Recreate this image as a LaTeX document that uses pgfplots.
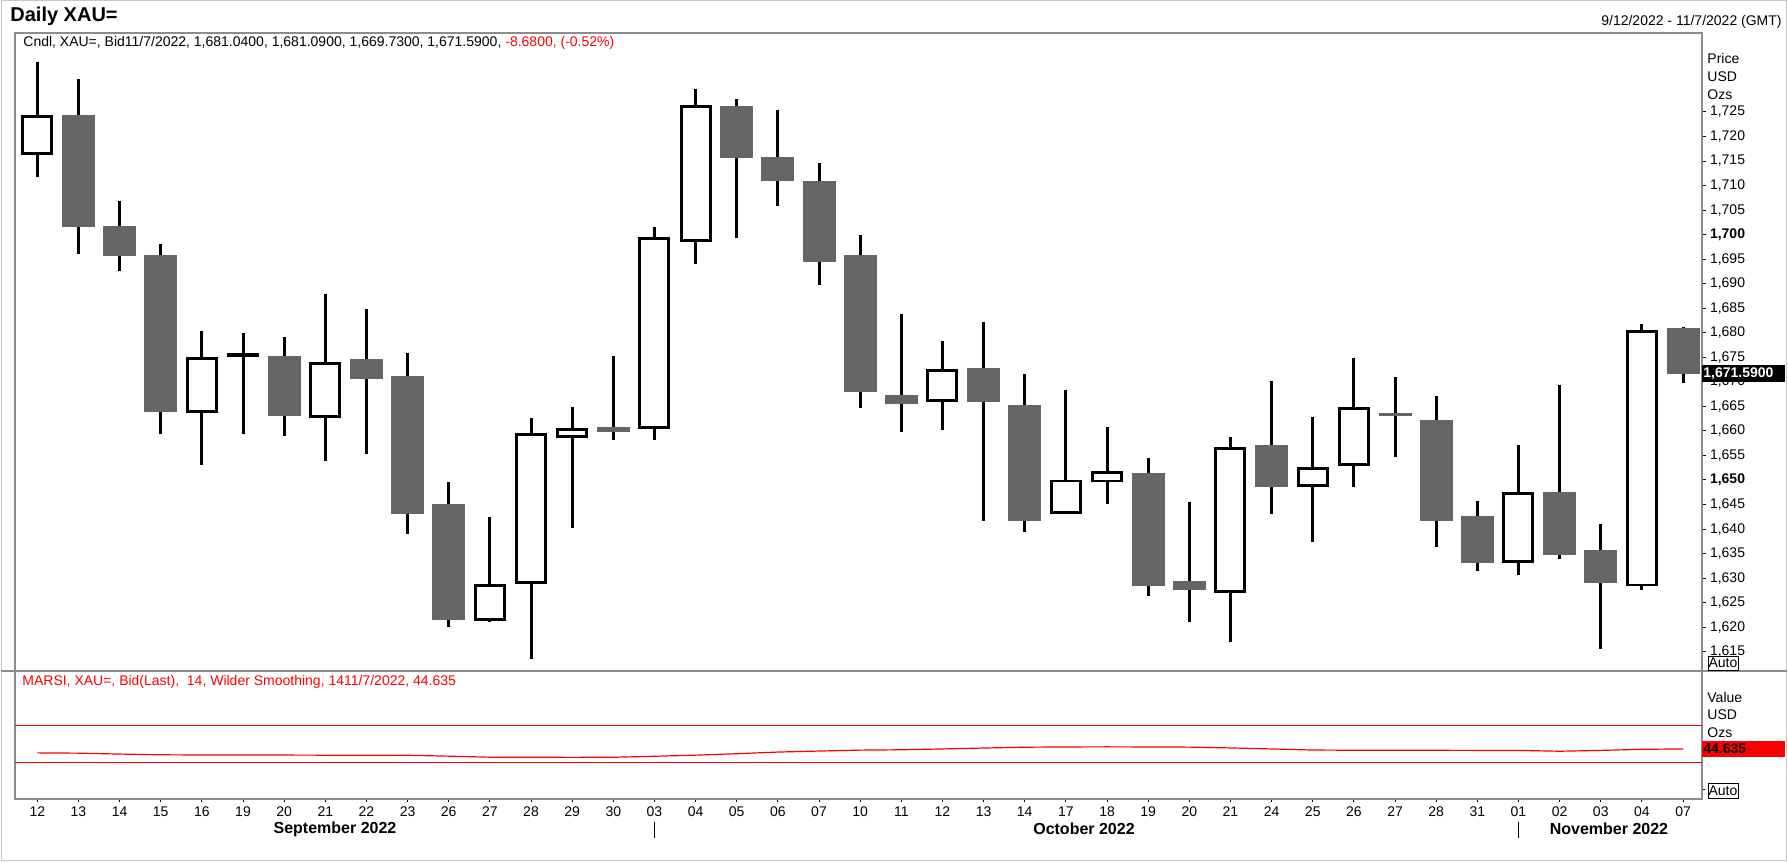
\documentclass[border=0pt]{standalone}
\usepackage{fontspec}
\setmainfont{Liberation Sans}
\usepackage{pgfplots}
\usepackage{pgfplotstable}
\pgfplotsset{compat=1.18}
\definecolor{bodygray}{HTML}{666666}
\definecolor{axgray}{HTML}{8C8C8C}
\definecolor{rred}{HTML}{FF0000}

% up (hollow) candles: index open high low close
\pgfplotstableread{
i o h l c
0 1716.6 1735.1 1711.7 1724.0
4 1663.9 1680.4 1653.1 1674.8
5 1675.3 1680.0 1659.4 1675.6
7 1662.9 1688.0 1653.8 1673.7
11 1621.6 1642.5 1621.1 1628.5
12 1629.1 1662.6 1613.5 1659.3
13 1658.9 1664.9 1640.2 1660.2
15 1660.7 1701.6 1658.1 1699.3
16 1698.9 1729.6 1694.1 1726.1
22 1666.2 1678.4 1660.1 1672.4
25 1643.3 1668.4 1643.3 1649.8
26 1649.8 1660.8 1645.1 1651.6
29 1627.2 1658.8 1617.0 1656.5
31 1648.9 1662.9 1637.3 1652.4
32 1653.2 1674.9 1648.5 1664.5
36 1633.4 1657.1 1630.7 1647.3
39 1628.6 1681.8 1627.6 1680.2
}\upc

% down (filled) candles
\pgfplotstableread{
i o h l c
1 1724.4 1731.8 1696.1 1701.5
2 1701.8 1706.9 1692.5 1695.7
3 1695.9 1698.1 1659.4 1663.8
6 1675.2 1679.2 1659.0 1663.1
8 1674.6 1684.8 1655.2 1670.5
9 1671.2 1675.9 1638.9 1643.1
10 1645.1 1649.6 1620.1 1621.5
14 1660.8 1675.3 1658.1 1659.7
17 1726.3 1727.7 1699.4 1715.7
18 1715.9 1725.5 1705.9 1710.9
19 1711.0 1714.7 1689.8 1694.5
20 1695.9 1700.0 1664.6 1668.0
21 1667.3 1683.9 1659.7 1665.4
23 1672.9 1682.2 1641.7 1665.8
24 1665.3 1671.7 1639.3 1641.7
27 1651.4 1654.5 1626.3 1628.4
28 1629.4 1645.5 1621.1 1627.5
30 1657.1 1670.2 1643.0 1648.6
33 1663.7 1671.0 1654.7 1663.0
34 1662.2 1667.1 1636.4 1641.7
35 1642.6 1645.7 1631.5 1633.1
37 1647.5 1669.3 1633.8 1634.8
38 1635.7 1641.0 1615.6 1629.1
40 1681.04 1681.09 1669.73 1671.59
}\downc

\pgfplotstableread{
i v
0 40.3
1 40.0
2 39.0
3 38.2
4 38.0
5 37.9
6 37.9
7 37.8
8 37.8
9 37.7
10 36.7
11 35.6
12 35.5
13 35.4
14 35.5
15 36.6
16 37.8
17 39.4
18 41.2
19 42.3
20 43.3
21 43.7
22 44.6
23 45.6
24 46.5
25 46.8
26 46.9
27 46.8
28 46.6
29 45.7
30 44.6
31 43.4
32 43.2
33 43.2
34 43.1
35 43.0
36 43.0
37 42.1
38 43.0
39 44.2
40 44.635
}\rsi

\newcommand{\sz}{\fontsize{7pt}{8pt}\selectfont}

\begin{document}
\begin{tikzpicture}
\useasboundingbox (0,0) rectangle (894pt,-431pt);

% ---------- price panel ----------
\begin{axis}[
  at={(7.5pt,-335.5pt)}, anchor=south west, scale only axis,
  width=843.5pt, height=319pt,
  xmin=-0.542, xmax=40.461, ymin=1611.07, ymax=1741.10,
  axis line style={draw=axgray, line width=0.6pt},
  xtick=\empty,
  ytick={1615,1620,...,1725},
  yticklabels={{1,615},{1,620},{1,625},{1,630},{1,635},{1,640},{1,645},{\textbf{1,650}},{1,655},{1,660},{1,665},{1,670},{1,675},{1,680},{1,685},{1,690},{1,695},{\textbf{1,700}},{1,705},{1,710},{1,715},{1,720},{1,725}},
  ytick pos=right, yticklabel pos=right,
  tick align=outside, major tick length=2pt,
  tick style={black, line width=0.5pt},
  yticklabel style={font=\sz, anchor=west, inner sep=0pt, xshift=1.8pt},
]
% wicks
\addplot[draw=none, mark=none, forget plot,
  error bars/.cd, y dir=plus, y explicit, error mark=none,
  error bar style={draw=black, line width=1.5pt}]
  table[x=i, y=l, y error plus expr={\thisrow{h}-\thisrow{l}}] {\upc};
\addplot[draw=none, mark=none, forget plot,
  error bars/.cd, y dir=plus, y explicit, error mark=none,
  error bar style={draw=black, line width=1.5pt}]
  table[x=i, y=l, y error plus expr={\thisrow{h}-\thisrow{l}}] {\downc};
% filled bodies
\addplot[draw=none, mark=none, forget plot,
  error bars/.cd, y dir=plus, y explicit, error mark=none,
  error bar style={draw=bodygray, line width=16.5pt}]
  table[x=i, y=c, y error plus expr={\thisrow{o}-\thisrow{c}}] {\downc};
% hollow bodies: black outline then white inside
\addplot[draw=none, mark=none, forget plot,
  error bars/.cd, y dir=plus, y explicit, error mark=none,
  error bar style={draw=black, line width=16pt}]
  table[x=i, y expr={\thisrow{o}-0.3}, y error plus expr={\thisrow{c}-\thisrow{o}+0.6}] {\upc};
\addplot[draw=none, mark=none, forget plot,
  error bars/.cd, y dir=plus, y explicit, error mark=none,
  error bar style={draw=white, line width=13pt}]
  table[x=i, y expr={\thisrow{o}+0.3}, y error plus expr={max(\thisrow{c}-\thisrow{o}-0.6,0)}] {\upc};
\end{axis}

% ---------- RSI panel ----------
\begin{axis}[
  at={(7.5pt,-399.5pt)}, anchor=south west, scale only axis,
  width=843.5pt, height=64pt,
  xmin=-0.542, xmax=40.461, ymin=-10.11, ymax=129.78,
  axis line style={draw=axgray, line width=0.6pt},
  xtick={0,...,40},
  xticklabels={12,13,14,15,16,19,20,21,22,23,26,27,28,29,30,03,04,05,06,07,10,11,12,13,14,17,18,19,20,21,24,25,26,27,28,31,01,02,03,04,07},
  xtick pos=bottom,
  ytick={0}, yticklabels={},
  ytick pos=right,
  tick align=outside, major tick length=1.5pt,
  tick style={black, line width=0.5pt},
  xticklabel style={font=\sz, anchor=north, inner sep=0pt, yshift=-2pt},
]
\addplot[rred, line width=0.5pt, forget plot] coordinates {(-0.542,70) (40.461,70)};
\addplot[rred, line width=0.5pt, forget plot] coordinates {(-0.542,30) (40.461,30)};
\addplot[rred, line width=0.6pt, mark=none] table[x=i, y=v] {\rsi};
\end{axis}

% ---------- decorations (1 px = 0.5pt) ----------
\begin{scope}[x=0.5pt, y=-0.5pt]
  \draw[gray!45, line width=0.5pt] (1,0.5) rectangle (1786,860);
  \draw[axgray, line width=0.6pt] (1,671) -- (1787,671);
  \node[anchor=west, inner sep=0pt, font=\fontsize{10pt}{11pt}\selectfont\bfseries] at (10,16.5) {Daily XAU=};
  \node[anchor=east, inner sep=0pt, font=\sz] at (1782,22) {9/12/2022 - 11/7/2022 (GMT)};
  \node[anchor=west, inner sep=0pt, font=\sz] at (23,43) {Cndl, XAU=, Bid11/7/2022, 1,681.0400, 1,681.0900, 1,669.7300, 1,671.5900, \textcolor{rred}{-8.6800, (-0.52\%)}};
  \node[anchor=west, inner sep=0pt, font=\sz, text=rred] at (22,682) {MARSI, XAU=, Bid(Last),\ \ 14, Wilder Smoothing, 1411/7/2022, 44.635};
  % right labels, price
  \node[anchor=west, inner sep=0pt, font=\sz] at (1707,58) {Price};
  \node[anchor=west, inner sep=0pt, font=\sz] at (1707,77) {USD};
  \node[anchor=west, inner sep=0pt, font=\sz] at (1707,95) {Ozs};
  \fill[black] (1702,365) rectangle (1785,382);
  \node[anchor=west, inner sep=0pt, font=\sz\bfseries, text=white] at (1703,373.5) {1,671.5900};
  \draw[black, line width=0.5pt, fill=white] (1708,656) rectangle (1738,670);
  \node[inner sep=0pt, font=\sz] at (1723,663) {Auto};
  % right labels, RSI
  \node[anchor=west, inner sep=0pt, font=\sz] at (1707,697) {Value};
  \node[anchor=west, inner sep=0pt, font=\sz] at (1707,715) {USD};
  \node[anchor=west, inner sep=0pt, font=\sz] at (1707,733) {Ozs};
  \fill[rred] (1702,741) rectangle (1785,757);
  \node[anchor=west, inner sep=0pt, font=\sz\bfseries, text=black] at (1703,749) {44.635};
  \draw[black, line width=0.5pt, fill=white] (1708,783) rectangle (1738,798);
  \node[inner sep=0pt, font=\sz] at (1723,790.5) {Auto};
  % month labels
  \node[inner sep=0pt, font=\fontsize{8pt}{9pt}\selectfont\bfseries] at (335,829) {September 2022};
  \node[inner sep=0pt, font=\fontsize{8pt}{9pt}\selectfont\bfseries] at (1084,829) {October 2022};
  \node[inner sep=0pt, font=\fontsize{8pt}{9pt}\selectfont\bfseries] at (1609,829) {November 2022};
  \draw[black, line width=0.5pt] (654,822) -- (654,838);
  \draw[black, line width=0.5pt] (1518,822) -- (1518,838);
\end{scope}
\end{tikzpicture}
\end{document}
